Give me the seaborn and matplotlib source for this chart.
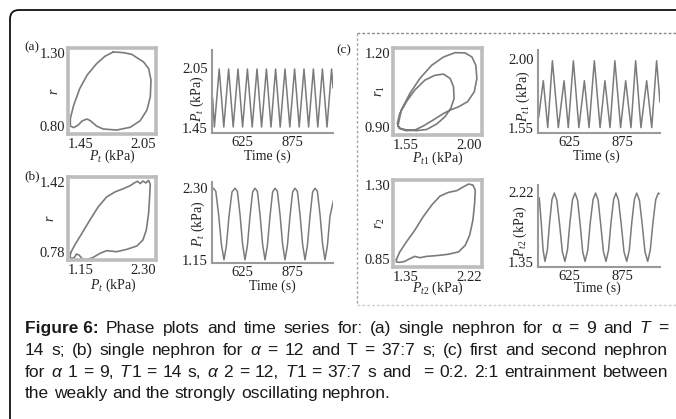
"""
Phase plots and time series of nephron pressure (Figure 6 recreation).
"""
import re

import matplotlib
matplotlib.use("Agg")
import matplotlib.pyplot as plt
import seaborn as sns
from matplotlib.lines import Line2D
from matplotlib.patches import FancyBboxPatch
from matplotlib.transforms import IdentityTransform

# ---- data ----------------------------------------------------------------
# (a) single nephron, alpha = 9
phase_a_pt = [1.759, 1.828, 1.885, 1.919, 1.965, 2.000, 2.016, 2.011, 1.988,
              1.942, 1.874, 1.782, 1.690, 1.645, 1.603, 1.580, 1.548, 1.519,
              1.489, 1.466, 1.466, 1.489, 1.530, 1.580, 1.645, 1.702]
phase_a_r = [1.277, 1.273, 1.263, 1.244, 1.219, 1.180, 1.113, 1.016, 0.939,
             0.877, 0.839, 0.823, 0.829, 0.846, 0.877, 0.887, 0.877, 0.852,
             0.837, 0.846, 0.891, 0.968, 1.064, 1.142, 1.209, 1.252]
series_a_time = [478, 487, 511, 534, 558, 581, 605, 628, 652, 676, 700, 723,
                 747, 770, 793, 816, 840, 864, 888, 911, 935, 958, 982, 1004,
                 1027, 1050, 1073, 1080]
series_a_pt = [1.75, 1.46, 2.04, 1.46, 2.04, 1.46, 2.04, 1.46, 2.04, 1.46,
               2.04, 1.46, 2.04, 1.46, 2.04, 1.46, 2.04, 1.46, 2.04, 1.46,
               2.04, 1.46, 2.04, 1.46, 2.04, 1.46, 2.04, 1.85]

# (b) single nephron, alpha = 12
phase_b_pt = [1.185, 1.238, 1.326, 1.435, 1.545, 1.655, 1.765, 1.874, 1.962,
              2.015, 2.059, 2.094, 2.129, 2.168, 2.203, 2.225, 2.217, 2.203,
              2.173, 2.129, 2.050, 1.918, 1.786, 1.655, 1.567, 1.479, 1.400,
              1.339, 1.295, 1.260, 1.233, 1.198, 1.176]
phase_b_r = [0.836, 0.895, 0.980, 1.087, 1.190, 1.266, 1.305, 1.330, 1.353,
             1.374, 1.387, 1.369, 1.389, 1.374, 1.394, 1.364, 1.266, 1.138,
             1.010, 0.934, 0.888, 0.862, 0.844, 0.852, 0.831, 0.800, 0.783,
             0.788, 0.818, 0.826, 0.800, 0.790, 0.806]
series_b_time = [478, 482, 494, 508, 522, 535, 547, 560, 575, 590, 602, 615,
                 628, 640, 652, 665, 678, 690, 702, 715, 728, 740, 752, 765,
                 778, 790, 802, 815, 828, 840, 852, 865, 878, 890, 902, 915,
                 928, 940, 952, 965, 978, 990, 1002, 1015, 1028, 1040, 1052,
                 1065, 1082]
series_b_pt = [2.29, 2.30,
               2.25, 1.88, 1.40, 1.15, 1.38, 1.85, 2.24, 2.30,
               2.25, 1.88, 1.40, 1.15, 1.38, 1.85, 2.24, 2.30,
               2.25, 1.88, 1.40, 1.15, 1.38, 1.85, 2.24, 2.30,
               2.25, 1.88, 1.40, 1.15, 1.38, 1.85, 2.24, 2.30,
               2.25, 1.88, 1.40, 1.15, 1.38, 1.85, 2.24, 2.30,
               2.25, 1.88, 1.40, 1.15, 1.38, 1.85, 2.10]

# (c) coupled nephrons, first (weak) and second (strong)
phase_c1_pt = [1.575, 1.592, 1.635, 1.686, 1.745, 1.805, 1.864, 1.915, 1.949,
               1.969, 1.974, 1.961, 1.927, 1.881, 1.839, 1.805, 1.754, 1.703,
               1.660, 1.615, 1.581, 1.572, 1.584, 1.618, 1.660, 1.711, 1.762,
               1.805, 1.839, 1.856, 1.859, 1.842, 1.813, 1.771, 1.720, 1.669,
               1.621, 1.587]
phase_c1_r = [0.931, 0.986, 1.043, 1.095, 1.140, 1.169, 1.184, 1.183, 1.169,
              1.140, 1.095, 1.049, 1.015, 0.997, 0.986, 0.974, 0.952, 0.931,
              0.917, 0.915, 0.923, 0.940, 0.974, 1.015, 1.055, 1.089, 1.106,
              1.110, 1.095, 1.066, 1.026, 0.992, 0.963, 0.938, 0.919, 0.915,
              0.917, 0.923]
series_c1_time = [478, 500, 521, 543, 571, 598, 618, 642, 668, 694, 716, 741,
                  768, 791, 815, 838, 865, 889, 914, 936, 961, 988, 1012,
                  1035, 1051]
series_c1_pt = [1.62, 1.86, 1.555, 1.99, 1.555, 1.86, 1.555, 1.99, 1.555,
                1.86, 1.555, 1.99, 1.555, 1.86, 1.555, 1.99, 1.555, 1.86,
                1.555, 1.99, 1.555, 1.86, 1.555, 1.99, 1.72]

phase_c2_pt = [1.383, 1.416, 1.481, 1.563, 1.645, 1.728, 1.810, 1.892, 1.974,
               2.039, 2.089, 2.131, 2.154, 2.148, 2.131, 2.099, 2.056, 1.990,
               1.892, 1.777, 1.678, 1.613, 1.563, 1.514, 1.465, 1.416, 1.383]
phase_c2_r = [0.888, 0.928, 0.980, 1.040, 1.110, 1.170, 1.217, 1.236, 1.245,
              1.265, 1.279, 1.274, 1.248, 1.179, 1.092, 1.014, 0.962, 0.928,
              0.916, 0.909, 0.905, 0.898, 0.905, 0.893, 0.879, 0.874, 0.876]
series_c2_time = [481, 490, 499, 508, 519, 530, 541, 552, 564, 577, 590, 602,
                  614, 626, 638, 650, 662, 674, 686, 697, 710, 722, 735, 747,
                  759, 771, 784, 796, 808, 820, 832, 843, 855, 868, 881, 894,
                  906, 918, 930, 941, 954, 967, 980, 993, 1005, 1018, 1031,
                  1043, 1048]
series_c2_pt = [2.15, 1.85, 1.50, 1.36, 1.50, 1.85, 2.13, 2.21,
                2.12, 1.82, 1.48, 1.36, 1.50, 1.85, 2.13, 2.21,
                2.12, 1.82, 1.48, 1.36, 1.50, 1.85, 2.13, 2.21,
                2.12, 1.82, 1.48, 1.36, 1.50, 1.85, 2.13, 2.21,
                2.12, 1.82, 1.48, 1.36, 1.50, 1.85, 2.13, 2.21,
                2.12, 1.82, 1.48, 1.36, 1.50, 1.85, 2.13, 2.21, 2.20]

time_ticks = [625, 875]

caption_lines = [
    "**Figure~6:** Phase plots and time series for: (a) single nephron for "
    "α = 9 and *T* =",
    "14 s; (b) single nephron for *α* = 12 and T = 37:7 s; (c) first and "
    "second nephron",
    "for *α* 1 = 9, *T*1 = 14 s, *α* 2 = 12, *T*1 = 37:7 s and  = 0:2. 2:1 "
    "entrainment between",
    "the weakly and the strongly oscillating nephron.",
]
caption_justified = [True, True, True, False]

# ---- style ---------------------------------------------------------------
W, H = 676, 419
CURVE = "#7b7b7b"
FRAME = "#bdbdbd"
SPINE = "#9a9a9a"
INK = "#222222"

sns.set_style("white")
plt.rcParams["font.family"] = ["Liberation Serif", "DejaVu Serif"]
plt.rcParams["mathtext.fontset"] = "custom"
plt.rcParams["mathtext.rm"] = "Liberation Serif"
plt.rcParams["mathtext.it"] = "Liberation Serif:italic"
plt.rcParams["mathtext.bf"] = "Liberation Serif:bold"

fig = plt.figure(figsize=(W / 100, H / 100), dpi=100)
fig.patch.set_facecolor("white")


def px_axes(left, top, right, bottom):
    return fig.add_axes([left / W, 1 - bottom / H, (right - left) / W,
                         (bottom - top) / H])


def place_labels(ax, xlabel, ylabel, xpos, ypos, size=10):
    ax.set_xlabel(xlabel, fontsize=size, color=INK)
    ax.set_ylabel(ylabel, fontsize=size, color=INK)
    ax.xaxis.set_label_coords(*xpos)
    ax.yaxis.set_label_coords(*ypos)
    ax.xaxis.label.set_va("center")
    ax.yaxis.label.set_va("center")


def phase_panel(box, pt, r, xlim, ylim, xlabel, ylabel, xpos, ypos):
    ax = px_axes(*box)
    sns.lineplot(x=pt + pt[:1], y=r + r[:1], sort=False, estimator=None,
                 color=CURVE, lw=1.2, ax=ax)
    ax.set_xlim(xlim)
    ax.set_ylim(ylim)
    ax.set_xticks(xlim)
    ax.set_yticks(ylim)
    ax.set_xticklabels([f"{v:.2f}" for v in xlim])
    ax.set_yticklabels([f"{v:.2f}" for v in ylim])
    for lab, ha in zip(ax.get_xticklabels(), ["left", "right"]):
        lab.set_ha(ha)
    for lab, va in zip(ax.get_yticklabels(), ["bottom", "top"]):
        lab.set_va(va)
    ax.tick_params(length=0, labelsize=10.5, labelcolor=INK)
    ax.tick_params(axis="x", pad=3)
    ax.tick_params(axis="y", pad=2)
    for spine in ax.spines.values():
        spine.set_color(FRAME)
        spine.set_linewidth(2.6)
    place_labels(ax, xlabel, ylabel, xpos, ypos)
    return ax


def series_panel(box, t, p, xlim, ylim, yticks, ylabel, xpos, ypos):
    ax = px_axes(*box)
    sns.lineplot(x=t, y=p, estimator=None, color=CURVE, lw=1.1, ax=ax)
    ax.set_xlim(xlim)
    ax.set_ylim(ylim)
    ax.set_xticks(time_ticks)
    ax.set_yticks(yticks)
    ax.set_xticklabels([str(v) for v in time_ticks])
    ax.set_yticklabels([f"{v:.2f}" for v in yticks])
    ax.tick_params(length=0, labelsize=10.5, labelcolor=INK)
    ax.tick_params(axis="x", pad=2)
    ax.tick_params(axis="y", pad=3)
    for side in ["top", "right"]:
        ax.spines[side].set_visible(False)
    for side in ["left", "bottom"]:
        ax.spines[side].set_color(SPINE)
        ax.spines[side].set_linewidth(1.5)
    place_labels(ax, "Time (s)", ylabel, xpos, ypos)
    return ax


phase_panel((68, 48, 156, 134), phase_a_pt, phase_a_r, (1.45, 2.05),
            (0.80, 1.30), r"$P_t$ (kPa)", r"$r$", (0.5, -0.26), (-0.15, 0.5))
series_panel((212, 50, 333, 133), series_a_time, series_a_pt, (475, 1080),
             (1.40, 2.23), [1.45, 2.05], r"$P_t$ (kPa)", (0.455, -0.28),
             (-0.125, 0.41))

phase_panel((68, 177, 156, 260), phase_b_pt, phase_b_r, (1.15, 2.30),
            (0.78, 1.42), r"$P_t$ (kPa)", r"$r$", (0.51, -0.31), (-0.2, 0.5))
series_panel((212, 182, 333, 263), series_b_time, series_b_pt, (475, 1080),
             (1.10, 2.40), [1.15, 2.30], r"$P_t$ (kPa)", (0.5, -0.29),
             (-0.115, 0.48))

phase_panel((393, 48, 482, 135), phase_c1_pt, phase_c1_r, (1.55, 2.00),
            (0.90, 1.20), r"$P_{t1}$ (kPa)", r"$r_1$", (0.5, -0.265),
            (-0.146, 0.5))
series_panel((538, 50, 660, 133), series_c1_time, series_c1_pt, (475, 1051),
             (1.52, 2.06), [1.55, 2.00], r"$P_{t1}$ (kPa)", (0.48, -0.28),
             (-0.123, 0.44))

phase_panel((393, 180, 482, 267), phase_c2_pt, phase_c2_r, (1.35, 2.22),
            (0.85, 1.30), r"$P_{t2}$ (kPa)", r"$r_2$", (0.5, -0.25),
            (-0.146, 0.5))
series_panel((538, 185, 660, 267), series_c2_time, series_c2_pt, (475, 1051),
             (1.29, 2.31), [1.35, 2.22], r"$P_{t2}$ (kPa)", (0.49, -0.26),
             (-0.148, 0.43))

# panel letters
ident = IdentityTransform()
for letter, x, y in [("(a)", 32, 47), ("(b)", 32, 176), ("(c)", 344, 50)]:
    fig.text(x, H - y, letter, transform=ident, fontsize=9.5, ha="center",
             va="center", color=INK)

# outer rounded frame and dotted box round panel (c)
frame = FancyBboxPatch((10, -60), 760, H - 10 + 60,
                       boxstyle="round,pad=0,rounding_size=9",
                       transform=ident, fill=False, ec="#111111", lw=1.3)
fig.add_artist(frame)
dots = dict(transform=ident, lw=1.0, linestyle=(0, (2, 1.5)))
fig.add_artist(Line2D([357, W], [H - 33, H - 33], color="#8a8a8a", **dots))
fig.add_artist(Line2D([357, 357], [H - 33, H - 305], color="#a8a8a8", **dots))
fig.add_artist(Line2D([357, W], [H - 305, H - 305], color="#cfcfcf", **dots))

# caption, justified word by word
renderer = fig.canvas.get_renderer()
CAP_LEFT, CAP_RIGHT, CAP_SIZE = 25, 668, 12.5
baselines = [333, 355, 377, 398]
space_px = 0.278 * CAP_SIZE * 100 / 72


def word_runs(word):
    runs = []
    for part in re.split(r"(\*\*[^*]+\*\*|\*[^*]+\*)", word):
        if not part:
            continue
        if part.startswith("**"):
            runs.append((part[2:-2].replace("~", " "), "bold"))
        elif part.startswith("*"):
            runs.append((part[1:-1], "italic"))
        else:
            runs.append((part, "normal"))
    return runs


for line, just, base in zip(caption_lines, caption_justified, baselines):
    words = []
    for word in line.split(" "):
        texts = []
        for text, style in word_runs(word):
            t = fig.text(0, H - base, text, transform=ident,
                         fontsize=CAP_SIZE, va="baseline", color="#1a1a1a",
                         family=["Liberation Sans", "DejaVu Sans"],
                         fontweight="bold" if style == "bold" else "normal",
                         fontstyle="italic" if style == "italic" else "normal")
            texts.append((t, t.get_window_extent(renderer).width))
        words.append(texts)
    widths = [sum(w for _, w in texts) for texts in words]
    gap = space_px
    if just and len(words) > 1:
        gap = (CAP_RIGHT - CAP_LEFT - sum(widths)) / (len(words) - 1)
    x = CAP_LEFT
    for texts, width in zip(words, widths):
        run_x = x
        for t, w in texts:
            t.set_x(run_x)
            run_x += w + (1.0 if t.get_fontstyle() == "italic" else 0.0)
        x += width + gap

fig.savefig("out.png", dpi=100)
